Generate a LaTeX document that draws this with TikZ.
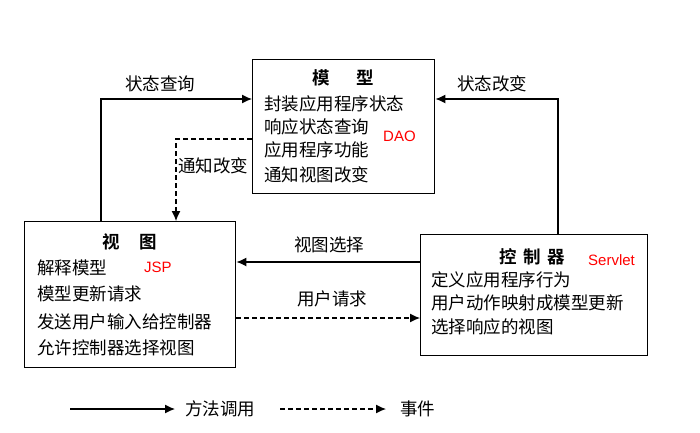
\documentclass[tikz,border=0pt]{standalone}
\usepackage{fontspec}
\setmainfont{Liberation Sans}
\newfontfamily\cjk{Noto Sans CJK SC}
\newfontfamily\cjkb{Noto Sans CJK SC Bold}
\usetikzlibrary{arrows.meta}
\begin{document}
\begin{tikzpicture}[x=1pt,y=-1pt,
  box/.style={draw,line width=1.4pt,anchor=north west,inner sep=0pt},
  txt/.style={anchor=west,inner sep=0pt,font=\cjk\fontsize{17.5}{19}\selectfont},
  ttl/.style={anchor=center,inner sep=0pt,font=\cjkb\fontsize{17.5}{19}\selectfont},
  red/.style={anchor=west,inner sep=0pt,text=red,font=\fontsize{15}{17}\selectfont},
  lbl/.style={inner sep=0pt,font=\cjk\fontsize{17.5}{19}\selectfont},
  arr/.style={line width=1.2pt,-{Latex[length=10pt,width=9pt]}},
  darr/.style={arr,dash pattern=on 5pt off 3pt}]
\useasboundingbox (0,0) rectangle (700,432);
% boxes
\node[box,minimum width=182pt,minimum height=134pt] (model) at (252,59) {};
\node[box,minimum width=211pt,minimum height=146pt] (view) at (24,221) {};
\node[box,minimum width=227pt,minimum height=121pt] (ctrl) at (420,234) {};
% model text
\node[ttl] (mt) at (343,78) {模\hspace{1.5em}型};
\node[txt] (m1) at (264,104) {封装应用程序状态};
\node[txt] (m2) at (264,127) {响应状态查询};
\node[txt] (m3) at (264,150) {应用程序功能};
\node[txt] (m4) at (264,175) {通知视图改变};
\node[red] (dao) at (383,136) {DAO};
% view text
\node[ttl] (vt) at (130,242) {视\hspace{1.1em}图};
\node[txt] (v1) at (37,268) {解释模型};
\node[txt] (v2) at (37,294) {模型更新请求};
\node[txt] (v3) at (37,322) {发送用户输入给控制器};
\node[txt] (v4) at (37,348) {允许控制器选择视图};
\node[red] (jsp) at (144,267) {JSP};
% controller text
\node[ttl] (ct) at (532,257) {控\hspace{0.37em}制\hspace{0.37em}器};
\node[txt] (c1) at (431,280) {定义应用程序行为};
\node[txt] (c2) at (431,303) {用户动作映射成模型更新};
\node[txt] (c3) at (431,327) {选择响应的视图};
\node[red] (srv) at (588,260) {Servlet};
% connectors
\coordinate (q1) at ([xshift=77pt]view.north west);
\coordinate (q2) at ([yshift=-40pt]model.north west);
\draw[arr] (q1) |- (q2);
\node[lbl] (lq) at (160,84) {状态查询};
\coordinate (n1) at ([yshift=-80pt]model.north west);
\coordinate (n2) at ([xshift=152pt]view.north west);
\draw[darr] (n1) -| (n2);
\node[lbl,anchor=west] (ln) at (178,166) {通知改变};
\coordinate (s1) at ([xshift=138pt]ctrl.north west);
\coordinate (s2) at ([yshift=-40pt]model.north east);
\draw[arr] (s1) |- (s2);
\node[lbl] (ls) at (492,84) {状态改变};
\coordinate (vs) at ([yshift=-28pt]ctrl.north west);
\draw[arr] (vs) -- (vs -| view.east);
\node[lbl] (lvs) at (329,245) {视图选择};
\coordinate (ur) at ([yshift=-97pt]view.north east);
\draw[darr] (ur) -- (ur -| ctrl.west);
\node[lbl] (lur) at (332,299) {用户请求};
% legend
\coordinate (la1) at (70,409);
\coordinate (la2) at (175,409);
\draw[arr] (la1) -- (la2);
\node[lbl,anchor=west] (lm) at (185,409) {方法调用};
\coordinate (lb1) at (280,409);
\coordinate (lb2) at (386,409);
\draw[darr] (lb1) -- (lb2);
\node[lbl,anchor=west] (le) at (400,409) {事件};
\end{tikzpicture}
\end{document}
